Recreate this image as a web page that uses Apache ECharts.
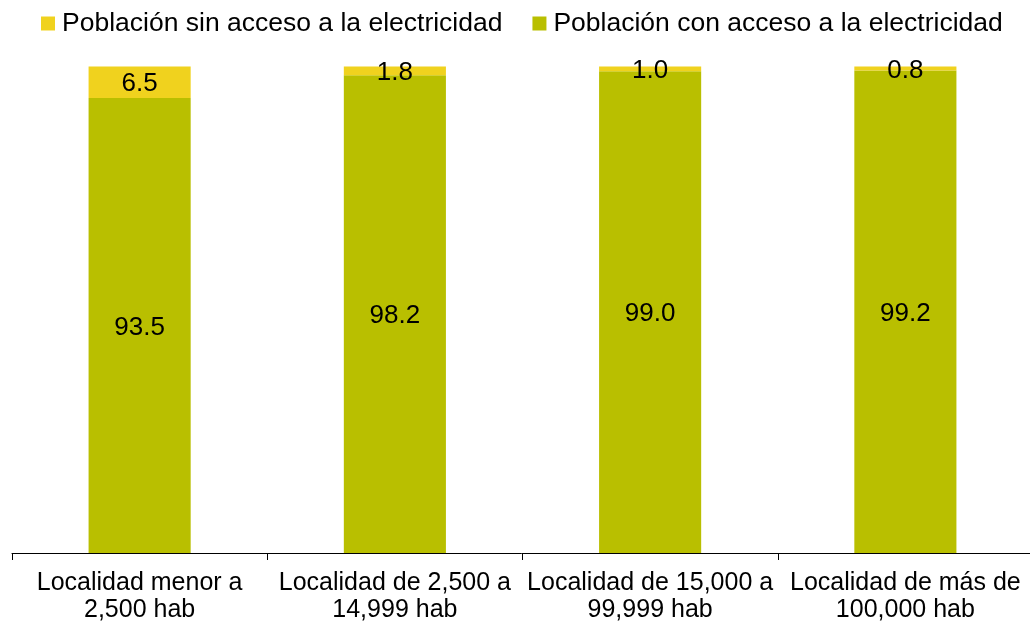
<!DOCTYPE html>
<html>
<head>
<meta charset="utf-8">
<script src="https://cdn.jsdelivr.net/npm/echarts@6/dist/echarts.min.js"></script>
<style>
html,body{margin:0;padding:0;background:#fff;}
#chart{width:1030px;height:626px;}
</style>
</head>
<body>
<div id="chart"></div>
<script>
var categories = ['Localidad menor a\n2,500 hab', 'Localidad de 2,500 a\n14,999 hab', 'Localidad de 15,000 a\n99,999 hab', 'Localidad de más de\n100,000 hab'];
var sinAcceso = [6.5, 1.8, 1.0, 0.8];
var conAcceso = [93.5, 98.2, 99.0, 99.2];
var seriesNames = ['Población sin acceso a la electricidad', 'Población con acceso a la electricidad'];

var FONT = '"Liberation Sans", Arial, Helvetica, sans-serif';
var chart = echarts.init(document.getElementById('chart'));
var labelCfg = {
  show: true,
  position: 'inside',
  color: '#000',
  fontSize: 26,
  fontFamily: FONT,
  offset: [0, 2],
  formatter: function (p) { return p.value.toFixed(1); }
};
chart.setOption({
  animation: false,
  textStyle: { fontFamily: FONT },
  legend: {
    left: 41,
    top: 10,
    padding: 0,
    itemWidth: 14,
    itemHeight: 14,
    itemGap: 30,
    icon: 'rect',
    textStyle: { fontSize: 26.5, color: '#000', fontFamily: FONT, padding: [0, 0, 0, 2] },
    data: [seriesNames[0], seriesNames[1]]
  },
  grid: { left: 12, width: 1021, top: 66.5, height: 486.5, containLabel: false, outerBoundsMode: 'none' },
  xAxis: {
    type: 'category',
    data: categories,
    axisLine: { lineStyle: { color: '#000', width: 1 } },
    axisTick: { show: true, length: 7, lineStyle: { color: '#000' } },
    axisLabel: { color: '#000', fontSize: 25, lineHeight: 27, margin: 17, fontFamily: FONT, interval: 0 }
  },
  yAxis: {
    type: 'value',
    min: 0,
    max: 100,
    show: false,
    splitLine: { show: false }
  },
  series: [
    {
      name: seriesNames[1],
      type: 'bar',
      stack: 'total',
      data: conAcceso,
      barWidth: '40%',
      itemStyle: { color: '#B9BF00' },
      label: labelCfg
    },
    {
      name: seriesNames[0],
      type: 'bar',
      stack: 'total',
      data: sinAcceso,
      barWidth: '40%',
      itemStyle: { color: '#F0D21E' },
      label: labelCfg
    }
  ]
});
</script>
</body>
</html>
